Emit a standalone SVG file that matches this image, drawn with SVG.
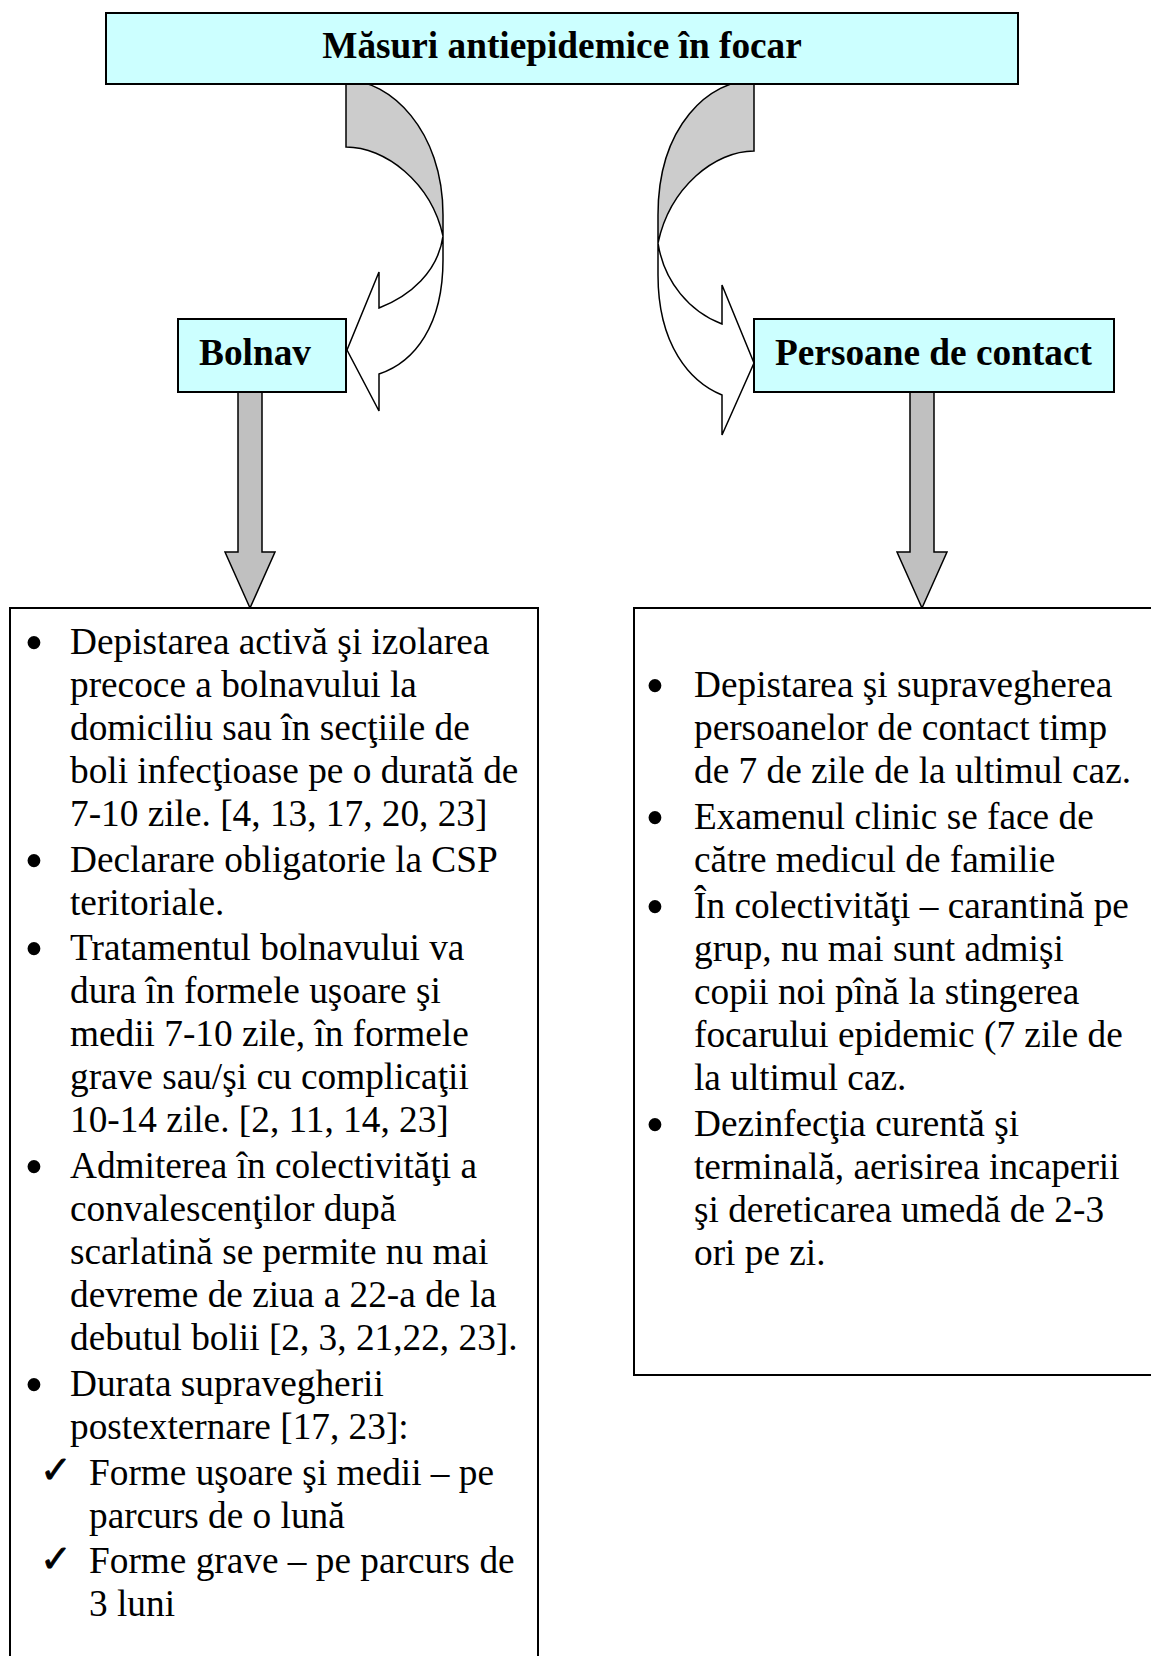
<svg xmlns="http://www.w3.org/2000/svg" width="1151" height="1656" viewBox="0 0 1151 1656">
<style>
.hdr{fill:#CCFFFF;stroke:#000;stroke-width:2}
.box{fill:#FFFFFF;stroke:#000;stroke-width:2}
.lbl{font-family:"Liberation Serif","Times New Roman",serif;font-weight:bold;font-size:37.3px;fill:#000}
.txt{font-family:"Liberation Serif","Times New Roman",serif;font-size:37.3px;fill:#000}
.bul{font-family:"Liberation Serif","Times New Roman",serif;font-size:54px;fill:#000}
.chk{font-family:"DejaVu Sans",sans-serif;font-size:38px;font-weight:bold;fill:#000;stroke:#000;stroke-width:0.8}
.back{fill:#CCCCCC;stroke:#000;stroke-width:1.5;stroke-linejoin:miter}
.front{fill:#FFFFFF;stroke:#000;stroke-width:1.5;stroke-linejoin:miter}
.down{fill:#C0C0C0;stroke:#000;stroke-width:1.5}
</style>
<g id="connectors">
  <g id="curved-left">
    <path class="back" d="M346,80 C390,80 443,130 443,215 L443,236 C431,182 385,147 346,147 Z"/>
    <path class="front" d="M443,236 C438,272 410,296 379,308 L379,272 L347,350 L379,411 L379,374 C415,362 443,325 443,260 Z"/>
  </g>
  <g id="curved-right">
    <path class="back" d="M754,80 C710,80 658,125 658,215 L658,243 C670,187 715,151 754,151 Z"/>
    <path class="front" d="M658,243 C664,282 690,312 722,324 L722,285 L754,363 L722,435 L722,395 C690,382 658,345 658,275 Z"/>
  </g>
  <path id="down-left" class="down" d="M238,392 L262,392 L262,552 L275,552 L250,608 L225,552 L238,552 Z"/>
  <path id="down-right" class="down" d="M910,392 L934,392 L934,552 L947,552 L922,608 L897,552 L910,552 Z"/>
</g>
<g id="node-title">
  <rect class="hdr" x="106" y="13" width="912" height="71"/>
  <text class="lbl" x="562" y="58" text-anchor="middle">Măsuri antiepidemice în focar</text>
</g>
<g id="node-bolnav">
  <rect class="hdr" x="178" y="319" width="168" height="73"/>
  <text class="lbl" x="199" y="365">Bolnav</text>
</g>
<g id="node-contact">
  <rect class="hdr" x="754" y="319" width="360" height="73"/>
  <text class="lbl" x="775" y="365">Persoane de contact</text>
</g>
<g id="node-bolnav-list">
  <rect class="box" x="10" y="608" width="528" height="1060"/>
  <g class="bul" text-anchor="middle">
    <text x="34" y="661">•</text>
    <text x="34" y="878.7">•</text>
    <text x="34" y="967.4">•</text>
    <text x="34" y="1185.1">•</text>
    <text x="34" y="1402.8">•</text>
  </g>
  <g class="chk">
    <text x="40" y="1483">✓</text>
    <text x="40" y="1571.7">✓</text>
  </g>
  <g class="txt">
    <text x="70" y="654">Depistarea activă şi izolarea</text>
    <text x="70" y="697">precoce a bolnavului la</text>
    <text x="70" y="740">domiciliu sau în secţiile de</text>
    <text x="70" y="783">boli infecţioase pe o durată de</text>
    <text x="70" y="826">7-10 zile. [4, 13, 17, 20, 23]</text>
    <text x="70" y="871.7">Declarare obligatorie la CSP</text>
    <text x="70" y="914.7">teritoriale.</text>
    <text x="70" y="960.4">Tratamentul bolnavului va</text>
    <text x="70" y="1003.4">dura în formele uşoare şi</text>
    <text x="70" y="1046.4">medii 7-10 zile, în formele</text>
    <text x="70" y="1089.4">grave sau/şi cu complicaţii</text>
    <text x="70" y="1132.4">10-14 zile. [2, 11, 14, 23]</text>
    <text x="70" y="1178.1">Admiterea în colectivităţi a</text>
    <text x="70" y="1221.1">convalescenţilor după</text>
    <text x="70" y="1264.1">scarlatină se permite nu mai</text>
    <text x="70" y="1307.1">devreme de ziua a 22-a de la</text>
    <text x="70" y="1350.1">debutul bolii [2, 3, 21,22, 23].</text>
    <text x="70" y="1395.8">Durata supravegherii</text>
    <text x="70" y="1438.8">postexternare [17, 23]:</text>
    <text x="89" y="1484.5">Forme uşoare şi medii – pe</text>
    <text x="89" y="1527.5">parcurs de o lună</text>
    <text x="89" y="1573.2">Forme grave – pe parcurs de</text>
    <text x="89" y="1616.2">3 luni</text>
  </g>
</g>
<g id="node-contact-list">
  <rect class="box" x="634" y="608" width="530" height="767"/>
  <g class="bul" text-anchor="middle">
    <text x="655" y="704.4">•</text>
    <text x="655" y="836.1">•</text>
    <text x="655" y="924.8">•</text>
    <text x="655" y="1142.5">•</text>
  </g>
  <g class="txt">
    <text x="694" y="697.4">Depistarea şi supravegherea</text>
    <text x="694" y="740.4">persoanelor de contact timp</text>
    <text x="694" y="783.4">de 7 de zile de la ultimul caz.</text>
    <text x="694" y="829.1">Examenul clinic se face de</text>
    <text x="694" y="872.1">către medicul de familie</text>
    <text x="694" y="917.8">În colectivităţi – carantină pe</text>
    <text x="694" y="960.8">grup, nu mai sunt admişi</text>
    <text x="694" y="1003.8">copii noi pînă la stingerea</text>
    <text x="694" y="1046.8">focarului epidemic (7 zile de</text>
    <text x="694" y="1089.8">la ultimul caz.</text>
    <text x="694" y="1135.5">Dezinfecţia curentă şi</text>
    <text x="694" y="1178.5">terminală, aerisirea incaperii</text>
    <text x="694" y="1221.5">şi dereticarea umedă de 2-3</text>
    <text x="694" y="1264.5">ori pe zi.</text>
  </g>
</g>
</svg>
